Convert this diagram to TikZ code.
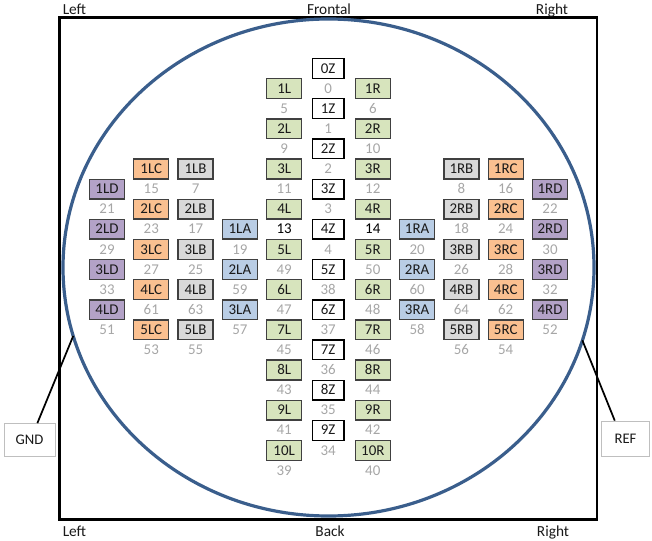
\documentclass[tikz,border=0pt]{standalone}
\usepackage{fontspec}
\setmainfont{Carlito}
\usetikzlibrary{shapes.geometric}
\definecolor{gfill}{HTML}{D7E4BD}
\definecolor{ofill}{HTML}{FAC090}
\definecolor{yfill}{HTML}{D9D9D9}
\definecolor{afill}{HTML}{B9CDE5}
\definecolor{pfill}{HTML}{B3A2C7}
\definecolor{bordc}{HTML}{404040}
\definecolor{numc}{HTML}{A6A6A6}
\definecolor{txtc}{HTML}{1A1A1A}
\definecolor{ellc}{HTML}{3A5E8C}
\definecolor{tagc}{HTML}{BFBFBF}
\newcommand\ecol[4]{%
  \foreach \t/\k in {#3}{\node[#2] (b\t) at (#1,68.5+20.1*\k) {\t};}%
  \foreach \t/\k in {#4}{\node[num] (n\t) at (#1,68.5+20.1*\k) {\t};}}
\begin{document}
\begin{tikzpicture}[x=0.75pt,y=-0.75pt,
  ebox/.style={draw=bordc, line width=1pt, minimum width=26.25pt, minimum height=14.8pt,
    inner sep=0pt, outer sep=0pt, font=\fontsize{11.2}{12}\selectfont, text height=7pt,
    text depth=0pt, text=txtc},
  grnbox/.style={ebox, fill=gfill},
  orgbox/.style={ebox, fill=ofill},
  grybox/.style={ebox, fill=yfill},
  blubox/.style={ebox, fill=afill},
  purbox/.style={ebox, fill=pfill},
  zbox/.style={ebox, fill=white, draw=black, minimum width=23.8pt},
  num/.style={inner sep=0pt, font=\fontsize{11.2}{12}\selectfont, text=numc,
    text height=7pt, text depth=0pt},
  lbl/.style={inner sep=0pt, font=\fontsize{11.5}{13}\selectfont, text=txtc},
  tag/.style={draw=tagc, fill=white, line width=0.6pt, inner sep=0pt,
    font=\fontsize{11}{13}\selectfont, text=txtc, text height=7pt, text depth=0pt}]
\useasboundingbox (0,0) rectangle (652,541);
% frame and head
\draw[line width=2pt] (59.5,17.5) rectangle (597,519.5);
\node[ellipse, draw=ellc, line width=2.4pt, inner sep=0pt, outer sep=0pt,
  minimum width=398.25pt, minimum height=372.75pt] (head) at (328.5,267.5) {};
% labels
\node[lbl, anchor=base west] (tl) at (62.5,14.5) {Left};
\node[lbl, anchor=base] (tf) at (329,14.5) {Frontal};
\node[lbl, anchor=base] (tr) at (552,14.5) {Right};
\node[lbl, anchor=base west] (bl) at (62.5,536) {Left};
\node[lbl, anchor=base] (bk) at (330,536) {Back};
\node[lbl, anchor=base] (br) at (553,536) {Right};
% columns
\ecol{328.2}{zbox}{0Z/0,1Z/2,2Z/4,3Z/6,4Z/8,5Z/10,6Z/12,7Z/14,8Z/16,9Z/18}
  {0/1,1/3,2/5,3/7,4/9,38/11,37/13,36/15,35/17,34/19}
\ecol{284.2}{grnbox}{1L/1,2L/3,3L/5,4L/7,5L/9,6L/11,7L/13,8L/15,9L/17,10L/19}
  {5/2,9/4,11/6,49/10,47/12,45/14,43/16,41/18,39/20}
\ecol{372.8}{grnbox}{1R/1,2R/3,3R/5,4R/7,5R/9,6R/11,7R/13,8R/15,9R/17,10R/19}
  {6/2,10/4,12/6,50/10,48/12,46/14,44/16,42/18,40/20}
\node[num, text=black] (n13) at (284.2,68.5+20.1*8) {13};
\node[num, text=black] (n14) at (372.8,68.5+20.1*8) {14};
\ecol{239.9}{blubox}{1LA/8,2LA/10,3LA/12}{19/9,59/11,57/13}
\ecol{195.6}{grybox}{1LB/5,2LB/7,3LB/9,4LB/11,5LB/13}{7/6,17/8,25/10,63/12,55/14}
\ecol{151.3}{orgbox}{1LC/5,2LC/7,3LC/9,4LC/11,5LC/13}{15/6,23/8,27/10,61/12,53/14}
\ecol{107}{purbox}{1LD/6,2LD/8,3LD/10,4LD/12}{21/7,29/9,33/11,51/13}
\ecol{417.1}{blubox}{1RA/8,2RA/10,3RA/12}{20/9,60/11,58/13}
\ecol{461.4}{grybox}{1RB/5,2RB/7,3RB/9,4RB/11,5RB/13}{8/6,18/8,26/10,64/12,56/14}
\ecol{505.7}{orgbox}{1RC/5,2RC/7,3RC/9,4RC/11,5RC/13}{16/6,24/8,28/10,62/12,54/14}
\ecol{550}{purbox}{1RD/6,2RD/8,3RD/10,4RD/12}{22/7,30/9,32/11,52/13}
% GND and REF
\node[tag, minimum width=38.25pt, minimum height=24.75pt] (gnd) at (29.5,440) {GND};
\node[tag, minimum width=36pt, minimum height=26.25pt] (ref) at (625.5,438.5) {REF};
\draw[line width=1.3pt] (head.195.6) -- (gnd.65);
\draw[line width=1.3pt] (head.344.5) -- (ref.121);
\end{tikzpicture}
\end{document}
